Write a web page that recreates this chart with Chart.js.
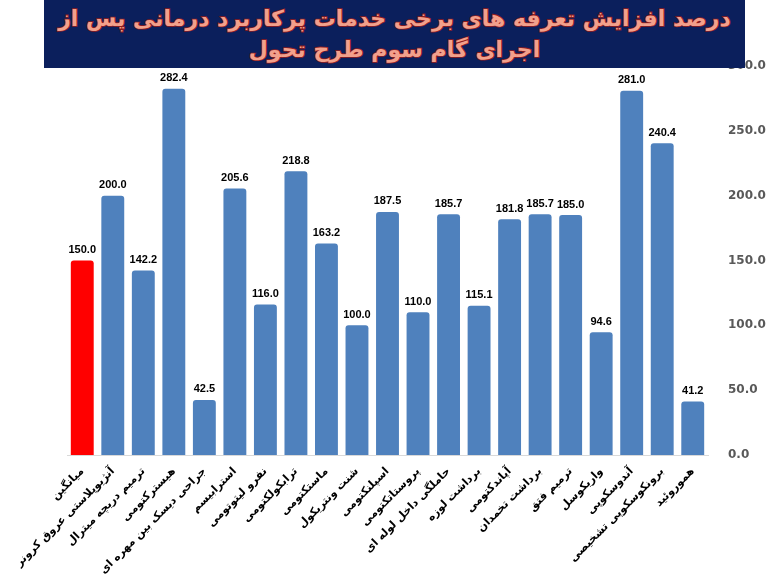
<!DOCTYPE html>
<html>
<head>
<meta charset="utf-8">
<script src="https://cdn.jsdelivr.net/npm/chart.js@4.4.1/dist/chart.umd.min.js"></script>
<style>
  body { margin: 0; background: #fff; }
  #wrap { position: relative; width: 771px; height: 574px; }
  #title {
    position: absolute; left: 44px; top: 0; width: 701px; height: 68px;
    background: #0b1f5c; z-index: 2;
    color: #f2a08c; font-family: "DejaVu Sans", sans-serif; font-weight: bold;
    font-size: 22px; line-height: 31px; text-align: center; direction: rtl;
    white-space: nowrap;
    -webkit-text-stroke: 1.6px #8e1c1c; paint-order: stroke fill;
    padding-top: 3px; box-sizing: border-box;
  }
</style>
</head>
<body>
<div id="wrap">
  <div id="title">درصد افزایش تعرفه های برخی خدمات پرکاربرد درمانی پس از<br>اجرای گام سوم طرح تحول</div>
  <canvas id="chart" width="771" height="574"></canvas>
</div>
<script>
const services = [
  "میانگین", "آنژیوپلاستی عروق کرونر", "ترمیم دریچه میترال", "هیسترکتومی",
  "جراحی دیسک بین مهره ای", "استرابیسم", "نفرو لیتوتومی", "ترابکولکتومی",
  "ماستکتومی", "شنت ونتریکول", "اسپلنکتومی", "پروستاتکتومی",
  "حاملگی داخل لوله ای", "برداشت لوزه", "آپاندکتومی", "برداشت تخمدان",
  "ترمیم فتق", "واریکوسل", "آندوسکوپی", "برونکوسکوپی تشخیصی", "هموروئید"
];
const increase = [
  150.0, 200.0, 142.2, 282.4, 42.5, 205.6, 116.0, 218.8, 163.2, 100.0, 187.5,
  110.0, 185.7, 115.1, 181.8, 185.7, 185.0, 94.6, 281.0, 240.4, 41.2
];
const yTicks = [0, 50, 100, 150, 200, 250, 300];

const barColors = increase.map((v, i) => (i === 0 ? "#ff0000" : "#4f81bd"));

const valueLabels = {
  id: "valueLabels",
  afterDatasetsDraw(chart) {
    const ctx = chart.ctx;
    const meta = chart.getDatasetMeta(0);
    ctx.save();
    ctx.font = "bold 11px 'Liberation Sans', sans-serif";
    ctx.fillStyle = "#000";
    ctx.textAlign = "center";
    ctx.textBaseline = "bottom";
    meta.data.forEach((bar, i) => {
      ctx.fillText(increase[i].toFixed(1), bar.x, bar.y - 5);
    });
    ctx.restore();
  }
};

new Chart(document.getElementById("chart"), {
  type: "bar",
  data: {
    labels: services,
    datasets: [{
      data: increase,
      backgroundColor: barColors,
      borderRadius: { topLeft: 3, topRight: 3 },
      borderSkipped: "bottom",
      categoryPercentage: 1,
      barPercentage: 0.75
    }]
  },
  options: {
    responsive: false,
    animation: false,
    layout: { padding: { left: 0, right: 0, top: 66, bottom: 0 } },
    plugins: { legend: { display: false }, tooltip: { enabled: false } },
    scales: {
      x: {
        grid: { display: false },
        border: { display: true, color: "#d9d9d9", width: 1 },
        ticks: {
          minRotation: 45, maxRotation: 45, autoSkip: false, padding: 2,
          color: "#000",
          font: { family: "'DejaVu Sans', sans-serif", weight: "bold", size: 11 }
        },
        afterFit(scale) { scale.height = 119; scale.paddingLeft = 67; scale.paddingRight = 0; }
      },
      y: {
        position: "right",
        min: 0, max: 300,
        grid: { display: false },
        border: { display: false },
        afterBuildTicks(scale) { scale.ticks = yTicks.map(v => ({ value: v })); },
        afterFit(scale) { scale.width = 63; },
        ticks: {
          padding: 12,
          color: "#595959",
          font: { family: "'DejaVu Sans', sans-serif", weight: "bold", size: 12 },
          callback: v => v.toFixed(1)
        }
      }
    }
  },
  plugins: [valueLabels]
});
</script>
</body>
</html>
